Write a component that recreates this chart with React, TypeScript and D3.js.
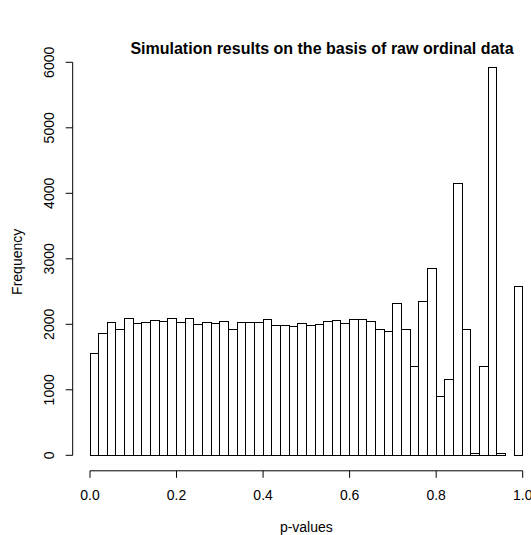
import React from "react";
import * as d3 from "d3";

const binStarts: number[] = d3.range(0, 50).map((i) => i * 0.02);
const counts: number[] = [
  1557, 1852, 2030, 1924, 2092, 2010, 2030, 2061, 2040, 2092,
  2030, 2096, 2000, 2030, 2010, 2050, 1924, 2030, 2020, 2030,
  2066, 1985, 1980, 1969, 2005, 1975, 2000, 2050, 2061, 2005,
  2066, 2076, 2050, 1924, 1893, 2320, 1924, 1353, 2351, 2855,
  901, 1154, 4153, 1924, 28, 1359, 5918, 26, 0, 2574,
];
const xTicks: number[] = [0, 0.2, 0.4, 0.6, 0.8, 1.0];
const yTicks: number[] = [0, 1000, 2000, 3000, 4000, 5000, 6000];
const title = "Simulation results on the basis of raw ordinal data";
const xLabel = "p-values";
const yLabel = "Frequency";

export default function App() {
  const W = 531, H = 535;
  const x = d3.scaleLinear().domain([0, 1]).range([90, 522.7]);
  const y = d3.scaleLinear().domain([0, 6000]).range([455.3, 62.3]);
  const axisX = x(-0.04);
  const axisY = y(-236.7);
  const font = "'Liberation Sans', Arial, Helvetica, sans-serif";
  const binW = 0.02;
  return (
    <svg width={W} height={H} style={{ position: "absolute", left: 0, top: 0, background: "#fff" }} fontFamily={font}>
      <rect x={0} y={0} width={W} height={H} fill="#fff" />
      <text x={322} y={54} textAnchor="middle" fontWeight="bold" fontSize={16}>{title}</text>
      {binStarts.map((b, i) =>
        counts[i] > 0 ? (
          <rect key={i} x={x(b)} y={y(counts[i])} width={x(b + binW) - x(b)} height={y(0) - y(counts[i])}
            fill="none" stroke="#000" strokeWidth={1} shapeRendering="crispEdges" />
        ) : null
      )}
      {/* y axis */}
      <line x1={axisX} x2={axisX} y1={y(0)} y2={y(6000)} stroke="#000" />
      {yTicks.map((t) => (
        <g key={t}>
          <line x1={axisX - 7} x2={axisX} y1={y(t)} y2={y(t)} stroke="#000" />
          <text transform={`translate(${axisX - 19},${y(t)}) rotate(-90)`} textAnchor="middle" fontSize={14}>{t}</text>
        </g>
      ))}
      <text transform={`translate(22,${(y(0) + y(6000)) / 2 + 3}) rotate(-90)`} textAnchor="middle" fontSize={14}>{yLabel}</text>
      {/* x axis */}
      <line x1={x(0)} x2={x(1)} y1={axisY} y2={axisY} stroke="#000" />
      {xTicks.map((t) => (
        <g key={t}>
          <line x1={x(t)} x2={x(t)} y1={axisY} y2={axisY + 7} stroke="#000" />
          <text x={x(t)} y={axisY + 29} textAnchor="middle" fontSize={14}>{t.toFixed(1)}</text>
        </g>
      ))}
      <text x={(x(0) + x(1)) / 2} y={532} textAnchor="middle" fontSize={14}>{xLabel}</text>
    </svg>
  );
}
